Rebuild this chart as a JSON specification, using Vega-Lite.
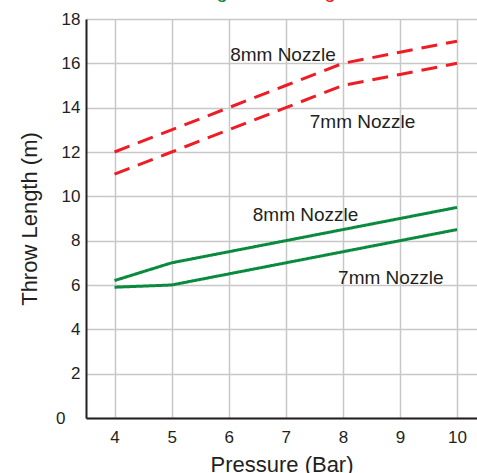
{
  "$schema": "https://vega.github.io/schema/vega-lite/v6.json",
  "width": 391,
  "height": 399,
  "autosize": {"type": "none"},
  "padding": {"left": 86, "top": 19, "right": 0, "bottom": 55},
  "background": "white",
  "config": {"view": {"stroke": null}, "font": "Liberation Sans"},
  "datasets": {
    "lines": [
      {"set": "Wide Angle", "nozzle": "8mm", "pressure": 4, "throw": 12},
      {"set": "Wide Angle", "nozzle": "8mm", "pressure": 5, "throw": 13},
      {"set": "Wide Angle", "nozzle": "8mm", "pressure": 6, "throw": 14},
      {"set": "Wide Angle", "nozzle": "8mm", "pressure": 7, "throw": 15},
      {"set": "Wide Angle", "nozzle": "8mm", "pressure": 8, "throw": 16},
      {"set": "Wide Angle", "nozzle": "8mm", "pressure": 9, "throw": 16.5},
      {"set": "Wide Angle", "nozzle": "8mm", "pressure": 10, "throw": 17},
      {"set": "Wide Angle", "nozzle": "7mm", "pressure": 4, "throw": 11},
      {"set": "Wide Angle", "nozzle": "7mm", "pressure": 5, "throw": 12},
      {"set": "Wide Angle", "nozzle": "7mm", "pressure": 6, "throw": 13},
      {"set": "Wide Angle", "nozzle": "7mm", "pressure": 7, "throw": 14},
      {"set": "Wide Angle", "nozzle": "7mm", "pressure": 8, "throw": 15},
      {"set": "Wide Angle", "nozzle": "7mm", "pressure": 9, "throw": 15.5},
      {"set": "Wide Angle", "nozzle": "7mm", "pressure": 10, "throw": 16},
      {"set": "Low Angle", "nozzle": "8mm", "pressure": 4, "throw": 6.2},
      {"set": "Low Angle", "nozzle": "8mm", "pressure": 5, "throw": 7},
      {"set": "Low Angle", "nozzle": "8mm", "pressure": 10, "throw": 9.5},
      {"set": "Low Angle", "nozzle": "7mm", "pressure": 4, "throw": 5.9},
      {"set": "Low Angle", "nozzle": "7mm", "pressure": 5, "throw": 6.0},
      {"set": "Low Angle", "nozzle": "7mm", "pressure": 10, "throw": 8.5}
    ],
    "labels": [
      {"label": "8mm Nozzle", "pressure": 6.95, "throw": 16.37},
      {"label": "7mm Nozzle", "pressure": 8.345, "throw": 13.35},
      {"label": "8mm Nozzle", "pressure": 7.346, "throw": 9.18},
      {"label": "7mm Nozzle", "pressure": 8.841, "throw": 6.315}
    ],
    "titles": [
      {"set": "Low Angle", "label": "Low Angle", "pressure": 4.635, "throw": 18.95},
      {"set": "Wide Angle", "label": "Wide Angle", "pressure": 6.374, "throw": 18.95}
    ]
  },
  "layer": [
    {
      "data": {"name": "lines"},
      "mark": {"type": "line", "strokeWidth": 3},
      "encoding": {
        "x": {
          "field": "pressure",
          "type": "quantitative",
          "scale": {"domain": [3.5, 10.35], "nice": false, "zero": false},
          "axis": {
            "values": [4, 4.5, 5, 5.5, 6, 6.5, 7, 7.5, 8, 8.5, 9, 9.5, 10],
            "format": "d",
            "labelExpr": "datum.value % 1 === 0 ? datum.label : ''",
            "title": "Pressure (Bar)",
            "domainColor": "#231f20",
            "domainWidth": 2,
            "ticks": false,
            "gridColor": "#c8c8c8",
            "gridWidth": 1.5,
            "labelFontSize": 17,
            "labelPadding": 11,
            "labelColor": "#231f20",
            "titleFontSize": 22,
            "titleFontWeight": "normal",
            "titleColor": "#231f20",
            "titlePadding": 9
          }
        },
        "y": {
          "field": "throw",
          "type": "quantitative",
          "scale": {"domain": [0, 18], "nice": false},
          "axis": {
            "values": [0, 2, 4, 6, 8, 10, 12, 14, 16, 18],
            "title": "Throw Length (m)",
            "domainColor": "#231f20",
            "domainWidth": 2,
            "ticks": false,
            "gridColor": "#c8c8c8",
            "gridWidth": 1.5,
            "labelFontSize": 17,
            "labelPadding": {"condition": {"test": "datum.value === 0", "value": 21}, "value": 6},
            "labelColor": "#231f20",
            "titleFontSize": 22,
            "titleFontWeight": "normal",
            "titleColor": "#231f20",
            "titlePadding": 14
          }
        },
        "color": {
          "field": "set",
          "type": "nominal",
          "scale": {"domain": ["Low Angle", "Wide Angle"], "range": ["#0a8a3c", "#ee1c25"]},
          "legend": null
        },
        "strokeDash": {
          "field": "set",
          "type": "nominal",
          "scale": {"domain": ["Low Angle", "Wide Angle"], "range": [[1, 0], [16, 9]]},
          "legend": null
        },
        "detail": {"field": "nozzle"}
      }
    },
    {
      "data": {"name": "labels"},
      "mark": {"type": "text", "fontSize": 19, "color": "#231f20", "baseline": "middle", "align": "center"},
      "encoding": {
        "x": {"field": "pressure", "type": "quantitative"},
        "y": {"field": "throw", "type": "quantitative"},
        "text": {"field": "label"}
      }
    },
    {
      "data": {"name": "titles"},
      "mark": {"type": "text", "fontSize": 20, "align": "left", "baseline": "alphabetic", "clip": false},
      "encoding": {
        "x": {"field": "pressure", "type": "quantitative"},
        "y": {"field": "throw", "type": "quantitative"},
        "text": {"field": "label"},
        "color": {"field": "set", "type": "nominal", "legend": null}
      }
    }
  ]
}
